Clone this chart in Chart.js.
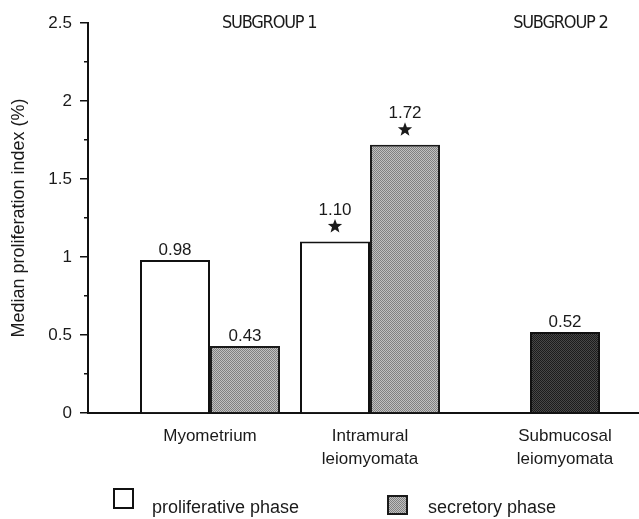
<!DOCTYPE html>
<html>
<head>
<meta charset="utf-8">
<script src="https://cdn.jsdelivr.net/npm/chart.js@4/dist/chart.umd.min.js"></script>
<style>
  html, body { margin: 0; padding: 0; background: #fff; }
  #chart { display: block; }
</style>
</head>
<body>
<canvas id="chart" width="639" height="519"></canvas>
<script>
// values
const categories = [['Myometrium'], ['Intramural', 'leiomyomata'], ['Submucosal', 'leiomyomata']];
const proliferative = [0.98, 1.10, null];
const secretory = [0.43, 1.72, null];
const submucosal = [null, null, 0.52];
const significant = [false, true, false];
const subgroups = ['SUBGROUP 1', 'SUBGROUP 2'];

const FONT = "'Liberation Sans', Arial, sans-serif";

function halftone(light, dark) {
  const c = document.createElement('canvas');
  c.width = 2; c.height = 2;
  const g = c.getContext('2d');
  g.fillStyle = light; g.fillRect(0, 0, 2, 2);
  g.fillStyle = dark; g.fillRect(0, 0, 1, 1); g.fillRect(1, 1, 1, 1);
  return g.createPattern(c, 'repeat');
}
const grayFill = halftone('#c0c0c0', '#808080');
const darkFill = halftone('#484848', '#1c1c1c');

function star(ctx, x, y, r) {
  ctx.beginPath();
  for (let k = 0; k < 10; k++) {
    const a = -Math.PI / 2 + k * Math.PI / 5;
    const rr = k % 2 ? r * 0.42 : r;
    ctx.lineTo(x + rr * Math.cos(a), y + rr * Math.sin(a));
  }
  ctx.closePath();
  ctx.fill();
}

const toPoints = arr => arr.map((v, i) => ({x: i, y: v}));

// value labels, stars, subgroup headings and the legend at the bottom
const annotate = {
  id: 'annotate',
  afterDatasetsDraw(chart) {
    const ctx = chart.ctx;
    ctx.save();
    ctx.fillStyle = '#1a1a1a';
    ctx.textAlign = 'center';
    ctx.textBaseline = 'middle';
    ctx.font = '17px ' + FONT;
    chart.data.datasets.forEach((ds, di) => {
      chart.getDatasetMeta(di).data.forEach((bar, i) => {
        const v = ds.data[i].y;
        if (v == null) return;
        if (significant[i]) {
          star(ctx, bar.x, bar.y - 15, 7.5);
          ctx.fillText(v.toFixed(2), bar.x, bar.y - 31);
        } else {
          ctx.fillText(v.toFixed(2), bar.x, bar.y - 10);
        }
      });
    });

    const xs = chart.scales.x;
    ctx.font = "18px 'Liberation Sans Narrow', 'DejaVu Sans Condensed', sans-serif";
    ctx.letterSpacing = '-1.2px';
    ctx.fillText(subgroups[0], xs.getPixelForValue(0.37), 23);
    ctx.fillText(subgroups[1], xs.getPixelForValue(2.19), 23);
    ctx.letterSpacing = '0px';

    // legend
    ctx.font = '18px ' + FONT;
    ctx.textAlign = 'left';
    const items = [
      {ds: chart.data.datasets[0], box: [114, 489, 19, 19], tx: 152, ty: 508},
      {ds: chart.data.datasets[1], box: [388, 496, 19, 18], tx: 428, ty: 508}
    ];
    items.forEach(it => {
      const [bx, by, bw, bh] = it.box;
      ctx.fillStyle = it.ds.backgroundColor;
      ctx.fillRect(bx, by, bw, bh);
      ctx.lineWidth = 2;
      ctx.strokeStyle = it.ds.borderColor;
      ctx.strokeRect(bx, by, bw, bh);
      ctx.fillStyle = '#1a1a1a';
      ctx.fillText(it.ds.label, it.tx, it.ty);
    });
    ctx.restore();
  }
};

new Chart(document.getElementById('chart'), {
  type: 'bar',
  data: {
    datasets: [
      {
        label: 'proliferative phase',
        data: toPoints(proliferative),
        stack: 'a',
        backgroundColor: '#ffffff',
        borderColor: '#111111',
        borderWidth: 2
      },
      {
        label: 'secretory phase',
        data: toPoints(secretory),
        stack: 'b',
        backgroundColor: grayFill,
        borderColor: '#1a1a1a',
        borderWidth: 2
      },
      {
        label: 'submucosal',
        data: toPoints(submucosal),
        stack: 'b',
        backgroundColor: darkFill,
        borderColor: '#111111',
        borderWidth: 2
      }
    ]
  },
  options: {
    responsive: false,
    animation: false,
    barPercentage: 1,
    categoryPercentage: 0.875,
    layout: { padding: { top: 23, right: 0, bottom: 0, left: 0 } },
    plugins: {
      legend: { display: false },
      tooltip: { enabled: false }
    },
    scales: {
      x: {
        type: 'linear',
        offset: false,
        min: -0.7625,
        max: 2.68125,
        afterFit(scale) { scale.height = 106; },
        afterBuildTicks(scale) {
          scale.ticks = categories.map((c, i) => ({value: i + (proliferative[i] == null ? 0.21875 : 0)}));
        },
        grid: { drawOnChartArea: false, drawTicks: false },
        border: { color: '#111', width: 2 },
        ticks: {
          autoSkip: false,
          maxRotation: 0,
          minRotation: 0,
          padding: 12,
          color: '#1a1a1a',
          font: { family: FONT, size: 17, lineHeight: 1.35 },
          callback: (value, index) => categories[index]
        }
      },
      y: {
        min: 0,
        max: 2.5,
        afterFit(scale) { scale.width = 88; },
        grid: {
          drawOnChartArea: false,
          drawTicks: true,
          tickLength: 8,
          color: '#111',
          lineWidth: 1.5,
          tickBorderDash: ctx => (ctx.tick && ctx.tick.value % 0.5 !== 0) ? [0, 4, 4, 100] : []
        },
        border: { color: '#111', width: 2 },
        ticks: {
          stepSize: 0.25,
          padding: 8,
          color: '#1a1a1a',
          font: { family: FONT, size: 17 },
          callback: v => (v % 0.5 === 0 ? String(v) : '')
        },
        title: {
          display: true,
          text: 'Median proliferation index (%)',
          color: '#1a1a1a',
          font: { family: FONT, size: 18 },
          padding: { top: 8, bottom: 0 }
        }
      }
    }
  },
  plugins: [annotate]
});
</script>
</body>
</html>
